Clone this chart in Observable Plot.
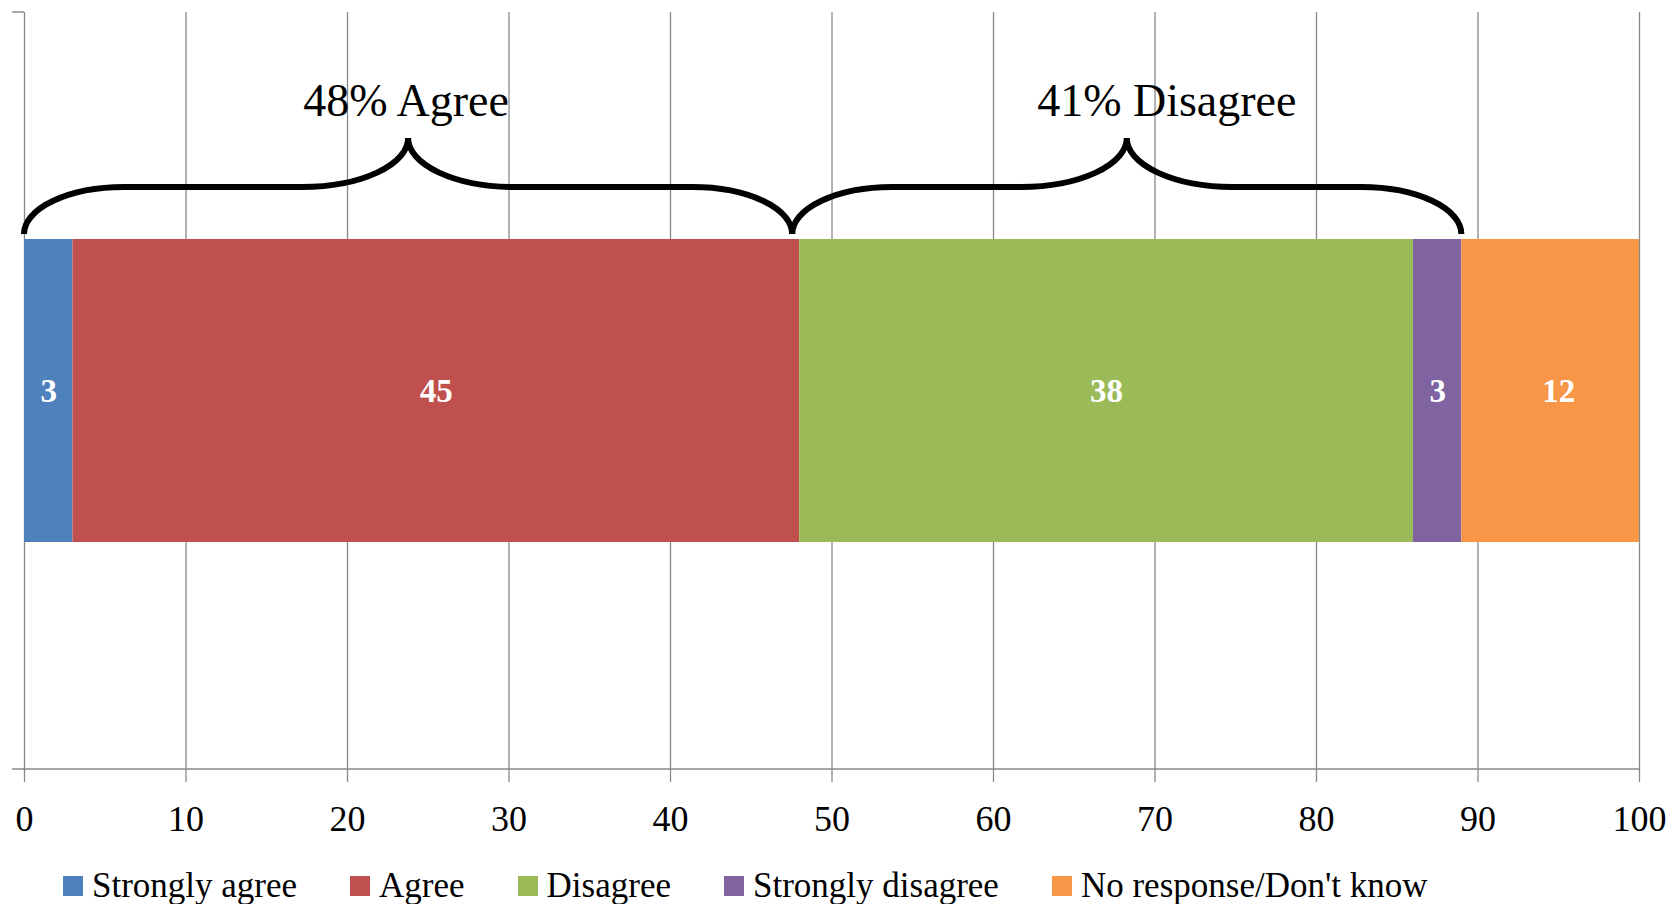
<!DOCTYPE html>
<html><head><meta charset="utf-8">
<script src="https://cdn.jsdelivr.net/npm/d3@7"></script>
<script src="https://cdn.jsdelivr.net/npm/@observablehq/plot@0.6"></script>
<style>
body{margin:0;background:#fff;width:1673px;height:904px;overflow:hidden;position:relative;font-family:"Liberation Serif","Times New Roman",serif;}
#chart{position:absolute;left:0;top:0}
#legend{position:absolute;left:63px;top:868px;display:flex;align-items:center;font-size:35px;line-height:35px;white-space:nowrap;color:#000}
.item{display:flex;align-items:center;margin-right:53px}
.sw{width:20px;height:20px;margin-right:9px;flex:none}
</style></head><body><div id="chart"></div><div id="legend"></div>
<script>
const question = "Q";
const categories = ["Strongly agree", "Agree", "Disagree", "Strongly disagree", "No response/Don't know"];
const values = [3, 45, 38, 3, 12];
const colors = ["#4F81BD", "#C0504D", "#9BBB59", "#8064A2", "#F79646"];
const xTicks = [0, 10, 20, 30, 40, 50, 60, 70, 80, 90, 100];
const groupNames = ["Agree", "Disagree"];

const rows = categories.map((c, i) => ({cat: c, value: values[i], q: question}));
const agree = values[0] + values[1];
const disagree = values[2] + values[3];
const groups = [
  {label: `${agree}% ${groupNames[0]}`, from: 0, to: agree},
  {label: `${disagree}% ${groupNames[1]}`, from: agree, to: agree + disagree}
];

const FONT = "Liberation Serif, Times New Roman, serif";
const GRID = "#898989";

function axisLines(index, scales, vals, dims) {
  const {width, height, marginLeft, marginTop, marginRight, marginBottom} = dims;
  const p = document.createElementNS("http://www.w3.org/2000/svg", "path");
  p.setAttribute("d", `M${marginLeft - 12},${marginTop}H${marginLeft}M${marginLeft - 12},${height - marginBottom}H${width - marginRight}`);
  p.setAttribute("stroke", GRID);
  p.setAttribute("stroke-width", 1.3);
  p.setAttribute("fill", "none");
  return p;
}

function braces(index, scales) {
  const x = scales.x;
  const T = scales.y(question);
  const yE = T - 5, yM = T - 52, yT = T - 101, r1 = 100, r2 = 106;
  const ry1 = yE - yM, ry2 = yM - yT;
  const junction = x(agree) - 7;
  const g = document.createElementNS("http://www.w3.org/2000/svg", "g");
  groups.forEach(gr => {
    const xa = gr.from === agree ? junction : x(gr.from);
    const xb = gr.to === agree ? junction : x(gr.to);
    const xm = (xa + xb) / 2;
    const d = `M${xa},${yE}` +
      `A${r1},${ry1} 0 0 1 ${xa + r1},${yM}` +
      `L${xm - r2},${yM}` +
      `A${r2},${ry2} 0 0 0 ${xm},${yT}` +
      `A${r2},${ry2} 0 0 0 ${xm + r2},${yM}` +
      `L${xb - r1},${yM}` +
      `A${r1},${ry1} 0 0 1 ${xb},${yE}`;
    const p = document.createElementNS("http://www.w3.org/2000/svg", "path");
    p.setAttribute("d", d);
    p.setAttribute("stroke", "#000");
    p.setAttribute("stroke-width", 6);
    p.setAttribute("fill", "none");
    g.appendChild(p);
  });
  return g;
}

const plot = Plot.plot({
  width: 1673,
  height: 860,
  marginTop: 12,
  marginLeft: 24,
  marginRight: 34,
  marginBottom: 91,
  style: {fontFamily: FONT, fontSize: "36px", background: "white", color: "black"},
  x: {domain: [0, 100], axis: null, clamp: true, label: null},
  y: {domain: [question], axis: null, padding: 0.428},
  color: {domain: categories, range: colors},
  marks: [
    Plot.ruleX(xTicks, {stroke: GRID, strokeWidth: 1.3}),
    axisLines,
    Plot.axisX(xTicks, {label: null, tickSize: 13, tickPadding: 23, stroke: GRID, strokeWidth: 1.3, fill: "black", fontSize: 36, fontFamily: FONT, tickFormat: d => String(d)}),
    Plot.barX(rows, Plot.stackX({x: "value", y: "q", fill: "cat"})),
    Plot.text(rows, Plot.stackX({x: "value", y: "q", text: d => String(d.value), fill: "white", fontWeight: "bold", fontSize: 33, fontFamily: FONT})),
    braces,
    Plot.text(groups.slice(0, 1), {x: d => (d.from + d.to) / 2, y: () => question, text: "label", fontSize: 46, fontFamily: FONT, fill: "black", dy: -290, dx: -6}),
    Plot.text(groups.slice(1), {x: d => (d.from + d.to) / 2, y: () => question, text: "label", fontSize: 46, fontFamily: FONT, fill: "black", dy: -290, dx: 36})
  ]
});
document.getElementById("chart").appendChild(plot);

const legend = document.getElementById("legend");
categories.forEach((c, i) => {
  const item = document.createElement("div");
  item.className = "item";
  const sw = document.createElement("span");
  sw.className = "sw";
  sw.style.background = colors[i];
  const t = document.createElement("span");
  t.textContent = c;
  item.appendChild(sw);
  item.appendChild(t);
  legend.appendChild(item);
});
</script>
</body></html>
